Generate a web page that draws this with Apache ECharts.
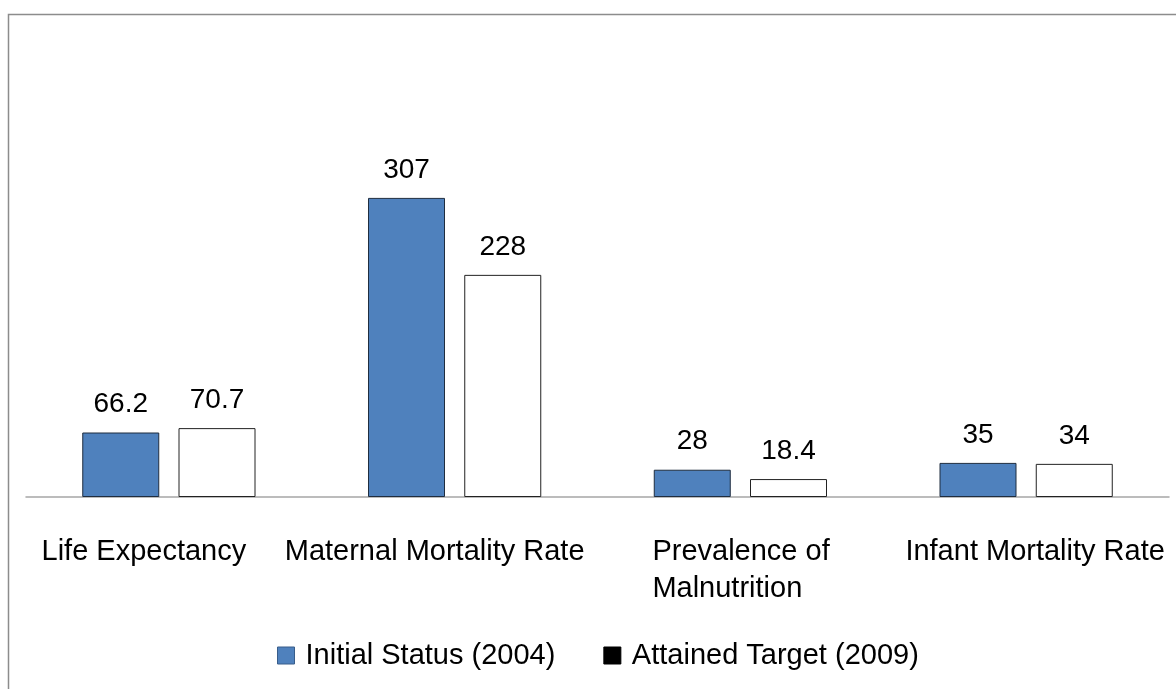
<!DOCTYPE html>
<html><head><meta charset="utf-8">
<script src="https://cdn.jsdelivr.net/npm/echarts@6/dist/echarts.min.js"></script>
<style>html,body{margin:0;padding:0;background:#fff}#c{width:1176px;height:689px}</style>
</head><body><div id="c"></div>
<script>
const categories = ['Life Expectancy', 'Maternal Mortality Rate', 'Prevalence of\nMalnutrition', 'Infant Mortality Rate'];
const initialStatus = [66.2, 307, 28, 35];
const attainedTarget = [70.7, 228, 18.4, 34];
const seriesNames = ['Initial Status (2004)', 'Attained Target (2009)'];

const FONT = '"Liberation Sans", Arial, sans-serif';
const FS = 28;
const base = {fontFamily: FONT, fontSize: 29, color: '#000', lineHeight: 37};
const rich = {
  a0: Object.assign({padding: [0, 50, 0, 0]}, base),
  a1: Object.assign({padding: [0, 40, 0, 0]}, base),
  a2: Object.assign({width: 176, align: 'left'}, base),
  a3: Object.assign({padding: [0, 0, 0, 18]}, base)
};
const chart = echarts.init(document.getElementById('c'));
chart.setOption({
  animation: false,
  backgroundColor: '#fff',
  graphic: [{
    type: 'rect', shape: {x: 8.5, y: 14.5, width: 1300, height: 800},
    style: {fill: 'none', stroke: '#8c8c8c', lineWidth: 1.5}, silent: true
  }],
  grid: {left: 26, right: 7, top: 156, bottom: 192, containLabel: false},
  legend: {
    top: 636, left: 272, itemWidth: 17, itemHeight: 17, itemGap: 48,
    textStyle: {fontFamily: FONT, fontSize: 29, color: '#000', padding: [0, 0, 0, 6]},
    data: [
      {name: seriesNames[0], icon: 'rect', itemStyle: {color: '#4F81BD', borderColor: '#385D8A', borderWidth: 1}},
      {name: seriesNames[1], icon: 'rect', itemStyle: {color: '#000', borderColor: '#000', borderWidth: 1}}
    ]
  },
  xAxis: {
    type: 'category', data: categories,
    axisLine: {lineStyle: {color: '#a6a6a6', width: 1.5}},
    axisTick: {show: false},
    axisLabel: Object.assign({
      margin: 36, verticalAlign: 'top', interval: 0, rich: rich,
      formatter: function (v, i) {
        return v.split('\n').map(function (s) { return '{a' + i + '|' + s + '}'; }).join('\n');
      }
    }, base)
  },
  yAxis: {type: 'value', min: 0, max: 350, show: false, splitLine: {show: false}},
  series: [
    {
      name: seriesNames[0], type: 'bar', data: initialStatus, barWidth: 77, barGap: '25%',
      itemStyle: {color: '#4F81BD', borderColor: '#1f2d3f', borderWidth: 1},
      label: {show: true, position: 'top', distance: 14, fontFamily: FONT, fontSize: FS, color: '#000'}
    },
    {
      name: seriesNames[1], type: 'bar', data: attainedTarget, barWidth: 77,
      itemStyle: {color: '#fff', borderColor: '#222', borderWidth: 1},
      label: {show: true, position: 'top', distance: 14, fontFamily: FONT, fontSize: FS, color: '#000'}
    }
  ]
});
</script></body></html>
